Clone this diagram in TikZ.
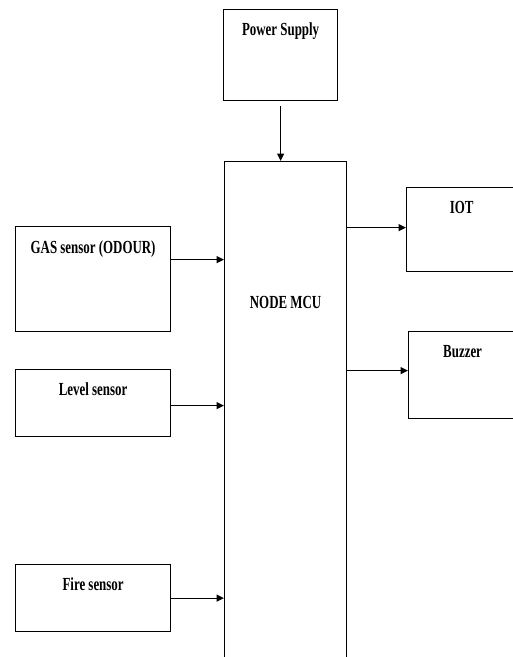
\documentclass[tikz,border=0pt]{standalone}
\usepackage{fontspec}
\setmainfont{Liberation Serif}[FakeStretch=0.7]
\usetikzlibrary{positioning,arrows.meta}

\tikzset{
  blockbox/.style={draw, line width=0.7pt, inner sep=0pt, anchor=north west},
  tag/.style={font=\fontsize{10.5}{12}\selectfont\bfseries, anchor=base, inner sep=0pt},
  arr/.style={line width=0.7pt, -{Triangle[length=1.5mm, width=1.4mm]}}
}

\begin{document}
\begin{tikzpicture}[x=0.02cm, y=-0.02cm]
  \useasboundingbox (0,0) rectangle (513,657);

  % Power supply and controller
  \node[blockbox, minimum width=2.28cm, minimum height=1.82cm] (power) at (223,9) {};
  \node[tag] (powertxt) at ([yshift=-0.52cm]power.north) {Power Supply};
  \node[blockbox, minimum width=2.44cm, minimum height=10.08cm] (mcu) at (224,161) {};
  \node[tag] (mcutxt) at ([yshift=-2.96cm]mcu.north) {NODE MCU};
  \draw[arr, shorten <=0.1cm] (power.south) -- (power.south |- mcu.north);

  % Sensors (left)
  \node[blockbox, minimum width=3.1cm, minimum height=2.1cm] (gas) at (15,226) {};
  \node[tag] (gastxt) at ([yshift=-0.54cm]gas.north) {GAS sensor (ODOUR)};
  \node[blockbox, minimum width=3.1cm, minimum height=1.34cm] (level) at (15,369) {};
  \node[tag] (leveltxt) at ([yshift=-0.52cm]level.north) {Level sensor};
  \node[blockbox, minimum width=3.1cm, minimum height=1.34cm] (fire) at (15,564) {};
  \node[tag] (firetxt) at ([yshift=-0.52cm]fire.north) {Fire sensor};

  \coordinate (gasout) at ([yshift=0.39cm]gas.east);
  \coordinate (levelout) at ([yshift=-0.05cm]level.east);
  \coordinate (fireout) at (fire.east);
  \draw[arr] (gasout) -- (gasout -| mcu.west);
  \draw[arr] (levelout) -- (levelout -| mcu.west);
  \draw[arr] (fireout) -- (fireout -| mcu.west);

  % Outputs (right)
  \node[blockbox, minimum width=2.2cm, minimum height=1.68cm] (iot) at (406,187) {};
  \node[tag] (iottxt) at ([yshift=-0.52cm]iot.north) {IOT};
  \node[blockbox, minimum width=2.16cm, minimum height=1.74cm] (buzzer) at (408,331) {};
  \node[tag] (buzzertxt) at ([yshift=-0.52cm]buzzer.north) {Buzzer};

  \coordinate (iotin) at ([yshift=0.04cm]iot.west);
  \coordinate (buzzerin) at ([yshift=0.09cm]buzzer.west);
  \draw[arr] (mcu.east |- iotin) -- (iotin);
  \draw[arr] (mcu.east |- buzzerin) -- (buzzerin);
\end{tikzpicture}
\end{document}
